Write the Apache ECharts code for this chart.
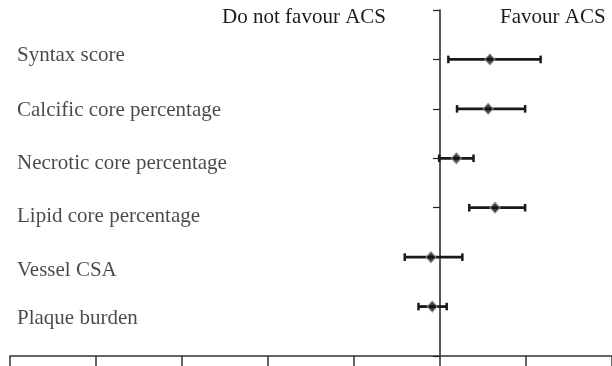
<!DOCTYPE html>
<html><head><meta charset="utf-8">
<script src="https://cdn.jsdelivr.net/npm/echarts@6/dist/echarts.min.js"></script>
<style>html,body{margin:0;padding:0;background:#fff}#c{width:612px;height:366px}</style>
</head><body><div id="c"></div>
<script>
const categories = ["Syntax score","Calcific core percentage","Necrotic core percentage","Lipid core percentage","Vessel CSA","Plaque burden"];
const rowPos = [6,5,4,3,2,1];
const labelPos = [6.09,4.98,3.92,2.85,1.76,0.77];
const estimate = [0.58,0.56,0.19,0.64,-0.105,-0.09];
const lower = [0.097,0.198,-0.01,0.34,-0.41,-0.25];
const upper = [1.17,0.99,0.39,0.99,0.26,0.078];
const headers = ["Do not favour ACS","Favour ACS"];

const FONT = "Liberation Serif";
const TXT = '#1c1c1c';
const chart = echarts.init(document.getElementById('c'));
const errData = categories.map((c,i)=>[lower[i],upper[i],rowPos[i]]);
const ptData = categories.map((c,i)=>[estimate[i],rowPos[i]]);
const lblData = categories.map((c,i)=>({value:[-5,labelPos[i]],name:c}));
chart.setOption({
  animation:false,
  grid:{left:10,right:0,top:10,bottom:10,containLabel:false},
  xAxis:{type:'value',min:-5,max:2,interval:1,
    axisLine:{onZero:false,lineStyle:{color:'#333',width:1.5}},
    axisTick:{show:true,length:12,lineStyle:{color:'#333',width:1.5}},
    axisLabel:{show:false},splitLine:{show:false}},
  yAxis:{type:'value',min:0,max:7,interval:1,
    axisLine:{show:true,onZero:true,lineStyle:{color:'#222',width:1.5}},
    axisTick:{show:true,length:7,lineStyle:{color:'#222',width:1.2}},
    axisLabel:{show:false},splitLine:{show:false}},
  graphic:[
    {type:'text',right:226,top:7,style:{text:headers[0],font:'21px "'+FONT+'"',fill:TXT}},
    {type:'text',left:500,top:7,style:{text:headers[1],font:'21px "'+FONT+'"',fill:TXT}}
  ],
  series:[
    {type:'scatter',data:lblData,symbolSize:0,silent:true,
      label:{show:true,position:'right',offset:[2,1],formatter:p=>p.name,
        fontFamily:FONT,fontSize:21,color:TXT}},
    {type:'custom',data:errData,silent:true,
      renderItem:function(params,api){
        const a=api.coord([api.value(0),api.value(2)]);
        const b=api.coord([api.value(1),api.value(2)]);
        const st={stroke:'#1a1a1a',lineWidth:2.8};
        const h=3.8;
        return {type:'group',children:[
          {type:'line',shape:{x1:a[0],y1:a[1],x2:b[0],y2:b[1]},style:st},
          {type:'line',shape:{x1:a[0],y1:a[1]-h,x2:a[0],y2:a[1]+h},style:{stroke:'#1a1a1a',lineWidth:2.5}},
          {type:'line',shape:{x1:b[0],y1:b[1]-h,x2:b[0],y2:b[1]+h},style:{stroke:'#1a1a1a',lineWidth:2.5}}
        ]};
      },z:2},
    {type:'scatter',data:ptData,symbol:'diamond',symbolSize:[10,11],silent:true,
      itemStyle:{color:'#111',borderColor:'#999',borderWidth:1.2},z:3}
  ]
});
</script></body></html>
